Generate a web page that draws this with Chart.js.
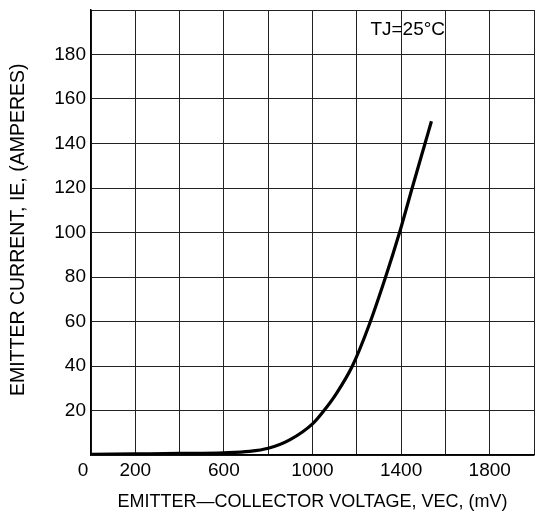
<!DOCTYPE html>
<html>
<head>
<meta charset="utf-8">
<script src="https://cdn.jsdelivr.net/npm/chart.js@4.4.1/dist/chart.umd.min.js"></script>
<style>
    html, body { margin: 0; padding: 0; background: #fff; }
    #wrap { width: 535px; height: 517px; }
</style>
</head>
<body>
<div id="wrap"><canvas id="ieChart"></canvas></div>
<script>
// --- Data ---
const vecMv = [0, 200, 400, 600, 716, 800, 897, 1000, 1052, 1107, 1180, 1254, 1330, 1393, 1450, 1508, 1537];
const ieAmps = [0.3, 0.5, 0.7, 1.0, 1.6, 3.0, 6.8, 14.0, 20, 27.5, 40, 58, 80, 100, 120, 140, 150];
const xLabeled = [0, 200, 600, 1000, 1400, 1800];
const yLabeled = [20, 40, 60, 80, 100, 120, 140, 160, 180];
const noteText = 'TJ=25°C';

const FONT = 'Liberation Sans, Arial, sans-serif';

// --- Plugin: junction temperature note ---
const notePlugin = {
    id: 'note',
    afterDatasetsDraw(chart) {
        const { ctx, scales } = chart;
        ctx.save();
        ctx.font = '19px ' + FONT;
        ctx.fillStyle = '#000';
        ctx.textAlign = 'center';
        ctx.textBaseline = 'middle';
        ctx.fillText(noteText, scales.x.getPixelForValue(1430), scales.y.getPixelForValue(191));
        ctx.restore();
    }
};

const ctx = document.getElementById('ieChart').getContext('2d');
new Chart(ctx, {
    type: 'line',
    data: {
        datasets: [{
            data: vecMv.map((v, i) => ({ x: v, y: ieAmps[i] })),
            borderColor: '#000',
            borderWidth: 3.2,
            pointRadius: 0,
            cubicInterpolationMode: 'monotone',
            fill: false
        }]
    },
    options: {
        responsive: true,
        maintainAspectRatio: false,
        animation: false,
        layout: { padding: { top: 10, right: 1, left: 0, bottom: 0 } },
        plugins: {
            legend: { display: false },
            tooltip: { enabled: false }
        },
        scales: {
            x: {
                type: 'linear',
                min: 0,
                max: 2000,
                afterFit(scale) {
                    scale.height = 62;
                    scale.paddingLeft = 0;
                    scale.paddingRight = 0;
                },
                grid: { color: '#222', lineWidth: 1, drawTicks: false },
                border: { color: '#000', width: 1.5 },
                ticks: {
                    stepSize: 200,
                    padding: 4,
                    color: '#000',
                    font: { family: FONT, size: 19 },
                    maxRotation: 0,
                    autoSkip: false,
                    callback: v => xLabeled.includes(v) ? (v === 0 ? '0   ' : String(v)) : ''
                },
                title: {
                    display: true,
                    text: 'EMITTER—COLLECTOR VOLTAGE, VEC, (mV)',
                    color: '#000',
                    font: { family: FONT, size: 18 },
                    padding: { top: 0, bottom: 4 }
                }
            },
            y: {
                min: 0,
                max: 200,
                afterFit(scale) {
                    scale.width = 91;
                    scale.paddingTop = 0;
                    scale.paddingBottom = 0;
                },
                grid: { color: '#222', lineWidth: 1, drawTicks: false },
                border: { color: '#000', width: 1.5 },
                ticks: {
                    stepSize: 20,
                    padding: 5,
                    color: '#000',
                    font: { family: FONT, size: 19 },
                    autoSkip: false,
                    callback: v => yLabeled.includes(v) ? String(v) : ''
                },
                title: {
                    display: true,
                    text: ' EMITTER CURRENT, IE, (AMPERES)',
                    color: '#000',
                    font: { family: FONT, size: 19.5 },
                    padding: { top: 7, bottom: 0 }
                }
            }
        }
    },
    plugins: [notePlugin]
});
</script>
</body>
</html>
